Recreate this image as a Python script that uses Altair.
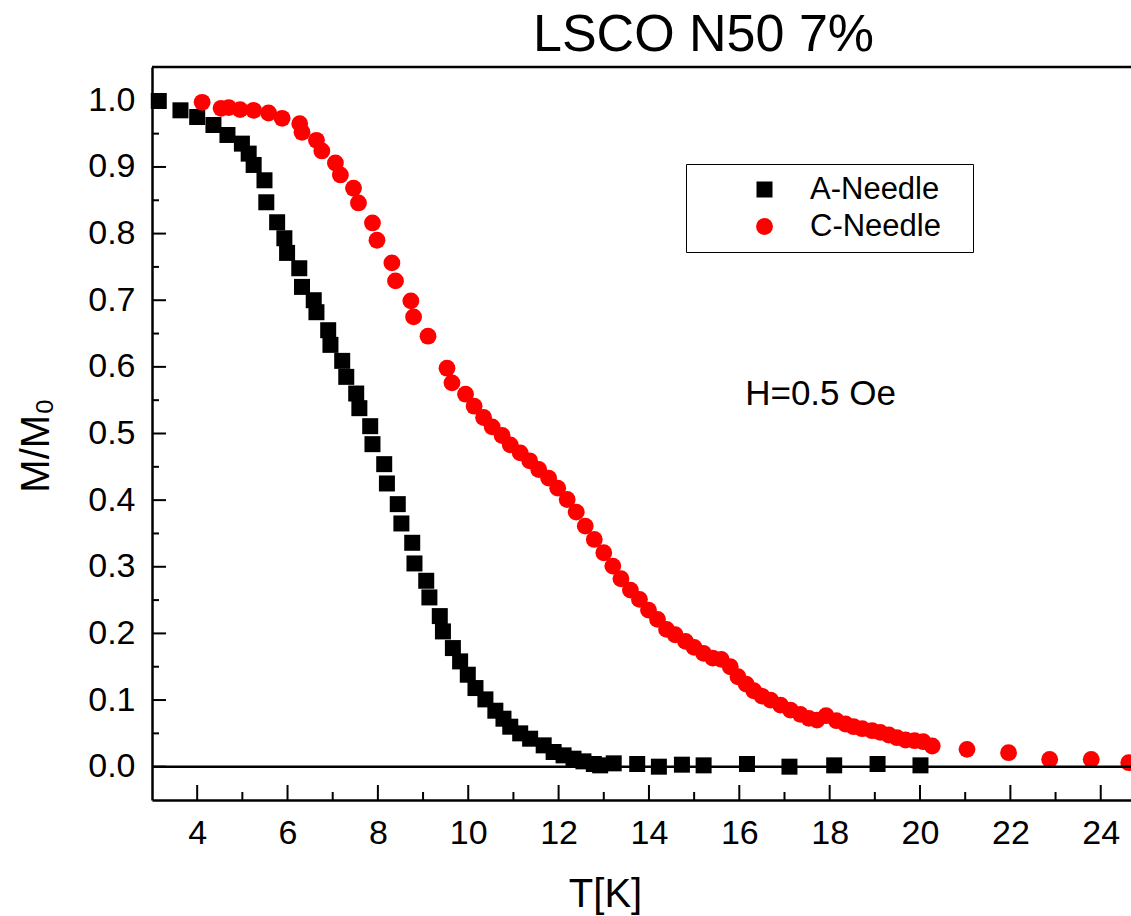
import altair as alt
import pandas as pd

# ---- data ----
SERIES = ["A-Needle", "C-Needle"]

A_T = [3.15, 3.63, 4.00, 4.36, 4.67, 4.99, 5.14, 5.25, 5.49, 5.53,
       5.77, 5.93, 5.99, 6.26, 6.32, 6.58, 6.64, 6.90, 6.95, 7.21,
       7.30, 7.52, 7.59, 7.83, 7.88, 8.14, 8.20, 8.44, 8.52, 8.76,
       8.81, 9.07, 9.14, 9.37, 9.44, 9.66, 9.82, 9.99, 10.16, 10.38,
       10.60, 10.78, 10.93, 11.15, 11.37, 11.67, 11.89, 12.11, 12.33, 12.55,
       12.78, 12.92, 13.22, 13.74, 14.22, 14.73, 15.21, 16.17, 17.11, 18.10,
       19.06, 20.01]
A_M = [0.999, 0.985, 0.975, 0.963, 0.948, 0.935, 0.920, 0.903, 0.880, 0.847,
       0.817, 0.793, 0.771, 0.748, 0.720, 0.700, 0.682, 0.655, 0.633, 0.609,
       0.585, 0.560, 0.538, 0.511, 0.484, 0.454, 0.425, 0.394, 0.365, 0.336,
       0.305, 0.279, 0.254, 0.226, 0.203, 0.178, 0.158, 0.138, 0.118, 0.101,
       0.084, 0.072, 0.060, 0.050, 0.042, 0.032, 0.022, 0.017, 0.012, 0.008,
       0.004, 0.002, 0.005, 0.004, 0.000, 0.003, 0.002, 0.004, 0.000, 0.002,
       0.004, 0.002]

C_T = [4.11, 4.53, 4.70, 4.95, 5.25, 5.58, 5.88, 6.27, 6.32, 6.64,
       6.76, 7.06, 7.17, 7.46, 7.57, 7.88, 7.98, 8.31, 8.39, 8.73,
       8.79, 9.11, 9.53, 9.64, 9.94, 10.13, 10.34, 10.53, 10.75, 10.93,
       11.15, 11.36, 11.56, 11.78, 11.98, 12.19, 12.39, 12.59, 12.79, 13.00,
       13.20, 13.38, 13.59, 13.79, 13.99, 14.19, 14.39, 14.58, 14.81, 15.00,
       15.21, 15.41, 15.60, 15.80, 15.97, 16.15, 16.32, 16.50, 16.69, 16.91,
       17.13, 17.35, 17.54, 17.72, 17.92, 18.15, 18.35, 18.53, 18.72, 18.94,
       19.12, 19.31, 19.49, 19.68, 19.88, 20.07, 20.27, 21.04, 21.96, 22.87,
       23.79, 24.62]
C_M = [0.997, 0.988, 0.989, 0.986, 0.985, 0.981, 0.973, 0.965, 0.952, 0.940,
       0.924, 0.906, 0.888, 0.868, 0.846, 0.816, 0.790, 0.756, 0.729, 0.699,
       0.675, 0.646, 0.598, 0.576, 0.559, 0.541, 0.524, 0.510, 0.497, 0.483,
       0.471, 0.459, 0.446, 0.433, 0.418, 0.401, 0.382, 0.361, 0.341, 0.321,
       0.301, 0.282, 0.265, 0.251, 0.235, 0.221, 0.206, 0.198, 0.188, 0.179,
       0.170, 0.163, 0.161, 0.150, 0.135, 0.124, 0.114, 0.106, 0.100, 0.0925,
       0.085, 0.0785, 0.0725, 0.070, 0.0765, 0.069, 0.064, 0.060, 0.057, 0.054,
       0.0515, 0.0475, 0.0435, 0.040, 0.039, 0.0375, 0.031, 0.026, 0.021, 0.011,
       0.011, 0.006]

X_MAJOR = [4, 6, 8, 10, 12, 14, 16, 18, 20, 22, 24]
X_MINOR = [5, 7, 9, 11, 13, 15, 17, 19, 21, 23]
Y_MAJOR = [0.0, 0.1, 0.2, 0.3, 0.4, 0.5, 0.6, 0.7, 0.8, 0.9, 1.0]
Y_MINOR = [0.05, 0.15, 0.25, 0.35, 0.45, 0.55, 0.65, 0.75, 0.85, 0.95]

TITLE = "LSCO N50 7%"
X_TITLE = "T[K]"
Y_TITLE = "M/M\u2080"
NOTE = "H=0.5 Oe"
NOTE_T = [16.13]
NOTE_M = [0.5425]

# ---- layout / style ----
W, H = 979, 733
FONT = "Liberation Sans"
xs = alt.Scale(domain=[3.0, 24.67], nice=False, zero=False)
ys = alt.Scale(domain=[-0.05, 1.05], nice=False, zero=False)

df = pd.DataFrame({
    "T": A_T + C_T,
    "M": A_M + C_M,
    "series": [SERIES[0]] * len(A_T) + [SERIES[1]] * len(C_T),
})

# invisible spacer title on the right widens the legend frame like the reference
legend = alt.Legend(
    title=".", titleOrient="right", titleOpacity=0, titleFontSize=10,
    titlePadding=19,
    orient="none", legendX=534, legendY=97,
    strokeColor="black", fillColor="white", padding=10,
    labelFont=FONT, labelFontSize=31, labelColor="black",
    symbolSize=260, symbolOffset=53, labelOffset=30, rowPadding=5,
    symbolStrokeWidth=0,
)

x_axis = alt.Axis(
    values=X_MAJOR, format="d", ticks=False, grid=False,
    domainColor="black", domainWidth=2.5,
    labelFont=FONT, labelFontSize=34, labelColor="black", labelPadding=16,
    labelFlush=False, labelOverlap=False,
    title=X_TITLE, titleFont=FONT, titleFontSize=40, titleFontWeight="normal",
    titleColor="black", titleX=453, titleY=106, titleAlign="center",
    titleBaseline="alphabetic", titleAngle=0,
)
y_axis = alt.Axis(
    values=Y_MAJOR, format=".1f", ticks=False, grid=False,
    domainColor="black", domainWidth=2.5,
    labelFont=FONT, labelFontSize=34, labelColor="black", labelPadding=17,
    labelFlush=False, labelOverlap=False,
    title=Y_TITLE, titleFont=FONT, titleFontSize=40, titleFontWeight="normal",
    titleColor="black", titleX=-104, titleY=378, titleAlign="center",
    titleBaseline="alphabetic", titleAngle=270,
)

points = alt.Chart(df).mark_point(filled=True, opacity=1, strokeWidth=0).encode(
    x=alt.X("T:Q", scale=xs, axis=x_axis),
    y=alt.Y("M:Q", scale=ys, axis=y_axis),
    color=alt.Color("series:N", scale=alt.Scale(domain=SERIES, range=["#000000", "#ff0000"]), legend=legend),
    shape=alt.Shape("series:N", scale=alt.Scale(domain=SERIES, range=["square", "circle"]), legend=legend),
    size=alt.Size("series:N", scale=alt.Scale(domain=SERIES, range=[256, 283]), legend=None),
)

zero_line = alt.Chart(pd.DataFrame({"M": [0.0]})).mark_rule(color="black", strokeWidth=2.5).encode(
    y=alt.Y("M:Q", scale=ys, axis=y_axis)
)
top_border = alt.Chart(pd.DataFrame({"a": [0]})).mark_rule(color="black", strokeWidth=2.5).encode(
    x=alt.value(0), x2=alt.value(W), y=alt.value(0)
)
x_major = alt.Chart(pd.DataFrame({"T": X_MAJOR})).mark_rule(color="black", strokeWidth=2).encode(
    x=alt.X("T:Q", scale=xs, axis=x_axis), y=alt.value(H), y2=alt.value(H - 15)
)
x_minor = alt.Chart(pd.DataFrame({"T": X_MINOR})).mark_rule(color="black", strokeWidth=2).encode(
    x=alt.X("T:Q", scale=xs, axis=x_axis), y=alt.value(H), y2=alt.value(H - 8)
)
y_major = alt.Chart(pd.DataFrame({"M": Y_MAJOR})).mark_rule(color="black", strokeWidth=2).encode(
    y=alt.Y("M:Q", scale=ys, axis=y_axis), x=alt.value(0), x2=alt.value(14)
)
y_minor = alt.Chart(pd.DataFrame({"M": Y_MINOR})).mark_rule(color="black", strokeWidth=2).encode(
    y=alt.Y("M:Q", scale=ys, axis=y_axis), x=alt.value(0), x2=alt.value(7)
)
note = alt.Chart(pd.DataFrame({"T": NOTE_T, "M": NOTE_M, "label": [NOTE]})).mark_text(
    align="left", baseline="alphabetic", font=FONT, fontSize=35, color="black"
).encode(
    x=alt.X("T:Q", scale=xs, axis=x_axis),
    y=alt.Y("M:Q", scale=ys, axis=y_axis),
    text="label:N",
)

chart = alt.layer(
    points, zero_line, top_border, x_major, x_minor, y_major, y_minor, note
).properties(
    width=W, height=H,
    padding={"left": 152, "top": 67, "right": 0, "bottom": 116},
    autosize=alt.AutoSizeParams(type="none"),
    background="white",
    title=alt.TitleParams(
        TITLE, font=FONT, fontSize=52, fontWeight="normal", color="black",
        anchor="middle", dx=62, dy=45, baseline="alphabetic", offset=8,
    ),
).configure_view(stroke=None)

chart.save("out.html", embed_options={"renderer": "svg", "actions": False})
